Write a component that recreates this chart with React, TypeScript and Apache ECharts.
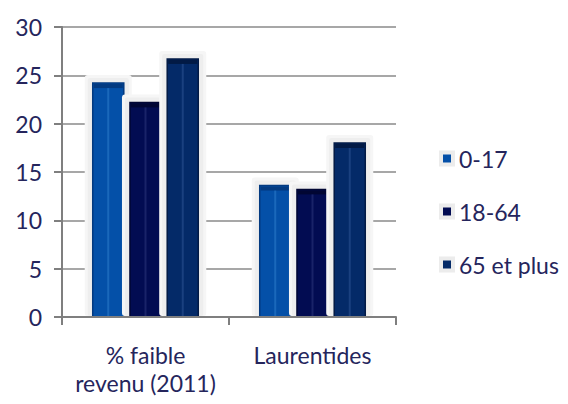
import React, { useEffect, useRef } from "react";
import * as echarts from "echarts";

const categories = ["% faible\nrevenu (2011)", "Laurentides"];
const seriesNames = ["0-17", "18-64", "65 et plus"];
const values017 = [24.2, 13.6];
const values1864 = [22.2, 13.2];
const values65 = [26.7, 18.0];
const yTicks = [0, 5, 10, 15, 20, 25, 30];

const colors = ["#0450a8", "#020c52", "#042a68"];
const borderColors = ["#033a80", "#010633", "#021a45"];
const stripeColors = ["#2a78c8", "#2a3478", "#2a5090"];
const textColor = "#25255c";
const font = "Lato";

export default function App() {
  const ref = useRef<HTMLDivElement>(null);
  useEffect(() => {
    if (!ref.current) return;
    const chart = echarts.init(ref.current, undefined, { renderer: "svg" });
    const allValues = [values017, values1864, values65];
    const offsets = [-0.223, 0, 0.223];
    const barFrac = 0.186;

    const makeSeries = (idx: number) => ({
      type: "custom",
      name: seriesNames[idx],
      itemStyle: { color: colors[idx] },
      data: allValues[idx].map((v, i) => [i, v]),
      renderItem: (params: any, api: any) => {
        const cat = api.value(0);
        const val = api.value(1);
        const base = api.coord([cat, 0]);
        const top = api.coord([cat, val]);
        const band = api.size([1, 0])[0];
        const w = band * barFrac;
        const cx = base[0] + offsets[idx] * band;
        const x = cx - w / 2;
        const h = base[1] - top[1];
        return {
          type: "group",
          children: [
            {
              type: "rect",
              shape: { x: x - 8, y: top[1] - 8, width: w + 16, height: h + 7, r: 3 },
              style: { fill: "#f6f6f6" },
            },
            {
              type: "rect",
              shape: { x: x - 5, y: top[1] - 5, width: w + 10, height: h + 4, r: 2 },
              style: { fill: "#eeeeee" },
            },
            {
              type: "rect",
              shape: { x, y: top[1], width: w, height: h },
              style: { fill: colors[idx], stroke: borderColors[idx], lineWidth: 1.5 },
            },
            {
              type: "rect",
              shape: { x: x + 1, y: top[1] + 1, width: w - 2, height: 4 },
              style: { fill: borderColors[idx] },
            },
            {
              type: "rect",
              shape: { x: cx - 1, y: top[1] + 5, width: 2, height: h - 6 },
              style: { fill: stripeColors[idx], opacity: 0.6 },
            },
          ],
        };
      },
    });

    chart.setOption({
      animation: false,
      textStyle: { fontFamily: font },
      grid: { left: 62, top: 27, right: 172, bottom: 87 },
      legend: {
        orient: "vertical",
        left: 434,
        top: 142,
        itemGap: 30,
        itemWidth: 12,
        itemHeight: 12,
        icon: "rect",
        itemStyle: { borderColor: "#ececec", borderWidth: 4 },
        textStyle: { color: textColor, fontSize: 23, fontFamily: font, padding: [0, 0, 0, 1] },
        data: seriesNames,
      },
      xAxis: {
        type: "category",
        data: categories,
        z: 10,
        axisLine: { lineStyle: { color: "#7f7f7f", width: 2 } },
        axisTick: { show: true, length: 8, lineStyle: { color: "#7f7f7f", width: 2 } },
        axisLabel: {
          color: textColor,
          fontSize: 23,
          fontFamily: font,
          margin: 24,
          lineHeight: 28,
          interval: 0,
        },
      },
      yAxis: {
        type: "value",
        min: yTicks[0],
        max: yTicks[yTicks.length - 1],
        interval: 5,
        axisLine: { show: true, lineStyle: { color: "#7f7f7f", width: 2 } },
        axisTick: { show: true, length: 8, lineStyle: { color: "#7f7f7f", width: 2 } },
        axisLabel: { color: textColor, fontSize: 23, fontFamily: font, margin: 20 },
        splitLine: { show: true, lineStyle: { color: "#8a8a8a", width: 1.5 } },
      },
      series: [makeSeries(0), makeSeries(1), makeSeries(2)],
    });
    return () => chart.dispose();
  }, []);
  return <div ref={ref} style={{ width: 568, height: 404, position: "absolute", left: 0, top: 0 }} />;
}
